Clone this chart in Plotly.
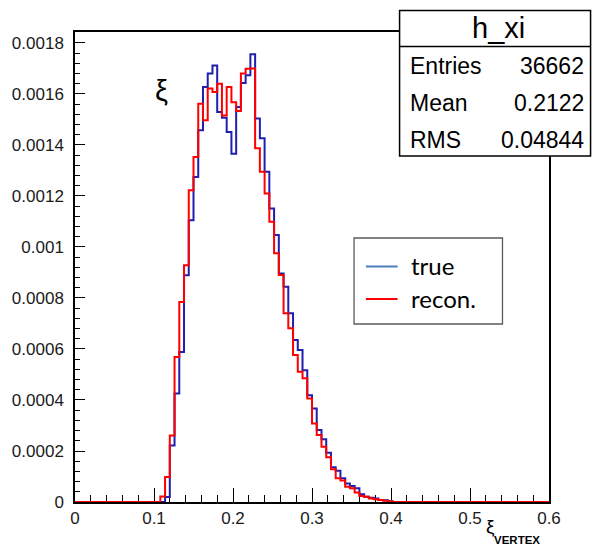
import plotly.graph_objects as go

# ---------------- data ----------------
BIN_WIDTH = 0.006
N_BINS = 100
X_MIN = 0.0
FIRST_BIN = 18          # first listed bin starts at 0.108
SCALE = 1e-4            # values below are in units of 1e-4

true_vals = [0.00, 0.20, 2.22, 4.25, 5.88, 8.89, 11.05, 12.74, 14.58, 16.27,
             16.80, 17.12, 15.29, 15.07, 14.51, 13.66, 15.49, 16.43, 16.73, 17.56,
             15.04, 14.26, 12.95, 11.51, 10.47, 8.96, 8.44, 7.40, 6.35, 5.96,
             5.17, 4.19, 3.67, 2.82, 2.46, 1.93, 1.36, 1.23, 0.93, 0.73,
             0.63, 0.54, 0.30, 0.21, 0.17, 0.14, 0.08, 0.07, 0.03]

recon_vals = [0.22, 0.98, 2.61, 5.69, 7.84, 9.28, 12.22, 13.53, 15.62, 14.97,
              16.21, 16.08, 16.40, 15.16, 16.27, 15.68, 15.33, 16.80, 16.99, 17.00,
              13.87, 12.95, 12.10, 10.99, 9.75, 8.90, 7.40, 6.81, 5.76, 5.11,
              4.85, 4.06, 3.08, 2.63, 2.17, 1.75, 1.28, 0.93, 0.84, 0.60,
              0.54, 0.37, 0.24, 0.21, 0.14, 0.11, 0.08, 0.05, 0.02]

x_ticks = [0, 0.1, 0.2, 0.3, 0.4, 0.5, 0.6]
x_ticktext = ["0", "0.1", "0.2", "0.3", "0.4", "0.5", "0.6"]
y_ticks = [0, 0.0002, 0.0004, 0.0006, 0.0008, 0.001, 0.0012, 0.0014, 0.0016, 0.0018]
y_ticktext = ["0", "0.0002", "0.0004", "0.0006", "0.0008", "0.001",
              "0.0012", "0.0014", "0.0016", "0.0018"]
Y_MAX = 0.001843

stats_title = "h_xi"
stats_labels = ["Entries", "Mean", "RMS"]
stats_values = ["36662", "0.2122", "0.04844"]
legend_labels = ["true", "recon."]


def full_bins(vals):
    out = [0.0] * N_BINS
    for i, v in enumerate(vals):
        out[FIRST_BIN + i] = v * SCALE
    return out


edges = [X_MIN + i * BIN_WIDTH for i in range(N_BINS + 1)]
h_true = full_bins(true_vals)
h_reco = full_bins(recon_vals)

# ---------------- layout geometry (pixels) ----------------
W, H = 593, 548
L, R, T, B = 70, 549, 32, 502


def px(x):
    return (x - L) / (R - L)


def py(y):
    return (B - y) / (B - T)


HIST_BLUE = "#1f1fb0"
HIST_RED = "#ff0000"

fig = go.Figure()
fig.add_trace(go.Scatter(x=edges, y=h_true + [h_true[-1]], mode="lines",
                         line=dict(shape="hv", color=HIST_BLUE, width=2),
                         showlegend=False, hoverinfo="skip"))
fig.add_trace(go.Scatter(x=edges, y=h_reco + [h_reco[-1]], mode="lines",
                         line=dict(shape="hv", color=HIST_RED, width=2),
                         showlegend=False, hoverinfo="skip"))

tickfont = dict(family="Liberation Sans, Arial, sans-serif", size=17, color="#1a1a1a")

fig.update_xaxes(range=[0, 0.6], tickmode="array", tickvals=x_ticks, ticktext=x_ticktext,
                 ticks="inside", ticklen=14, tickwidth=1.3, tickcolor="black",
                 showline=True, linecolor="black", linewidth=1.5, mirror=True,
                 showgrid=False, zeroline=False, tickfont=tickfont,
                 layer="below traces", ticklabelstandoff=0,
                 minor=dict(ticks="inside", ticklen=7, tickwidth=1.3, tickcolor="black",
                            tickmode="linear", tick0=0, dtick=0.02, showgrid=False))
fig.update_yaxes(range=[0, Y_MAX], tickmode="array", tickvals=y_ticks, ticktext=y_ticktext,
                 ticks="inside", ticklen=10, tickwidth=1.3, tickcolor="black",
                 showline=True, linecolor="black", linewidth=1.5, mirror=True,
                 showgrid=False, zeroline=False, tickfont=tickfont,
                 layer="below traces", ticklabelstandoff=6,
                 minor=dict(ticks="inside", ticklen=5, tickwidth=1.3, tickcolor="black",
                            tickmode="linear", tick0=0, dtick=0.00004, showgrid=False))

shapes = []
annotations = []

# stats box
shapes.append(dict(type="rect", xref="paper", yref="paper",
                   x0=px(398), x1=px(591), y0=py(156), y1=py(10.5),
                   line=dict(color="black", width=1.5), fillcolor="white", layer="above"))
shapes.append(dict(type="line", xref="paper", yref="paper",
                   x0=px(398), x1=px(591), y0=py(46.5), y1=py(46.5),
                   line=dict(color="black", width=1.5), layer="above"))
sfont = dict(family="Liberation Sans, Arial, sans-serif", color="black")
annotations.append(dict(text=stats_title, xref="paper", yref="paper",
                        x=px(497.5), y=py(28), xanchor="center", yanchor="middle",
                        showarrow=False, font=dict(size=29, **sfont)))
row_y = [66, 103.5, 140]
for lab, val, yy in zip(stats_labels, stats_values, row_y):
    annotations.append(dict(text=lab, xref="paper", yref="paper",
                            x=px(407), y=py(yy), xanchor="left", yanchor="middle",
                            showarrow=False, font=dict(size=23, **sfont)))
    annotations.append(dict(text=val, xref="paper", yref="paper",
                            x=px(586), y=py(yy), xanchor="right", yanchor="middle",
                            showarrow=False, font=dict(size=23, **sfont)))

# legend box
shapes.append(dict(type="rect", xref="paper", yref="paper",
                   x0=px(352), x1=px(502), y0=py(324), y1=py(238),
                   line=dict(color="#5a5a5a", width=1.3), fillcolor="white", layer="above"))
leg_colors = ["#4a7ebb", "#ff0000"]
leg_y = [266.5, 299]
lfont = dict(family="Lato, Open Sans, sans-serif", size=24, color="black")
for lab, col, yy in zip(legend_labels, leg_colors, leg_y):
    shapes.append(dict(type="line", xref="paper", yref="paper",
                       x0=px(364), x1=px(396), y0=py(yy), y1=py(yy),
                       line=dict(color=col, width=2.2), layer="above"))
    annotations.append(dict(text=lab, xref="paper", yref="paper",
                            x=px(408), y=py(yy - 1), xanchor="left", yanchor="middle",
                            showarrow=False, font=lfont))

# xi label in the pad
annotations.append(dict(text="ξ", xref="paper", yref="paper",
                        x=px(157), y=py(91), xanchor="center", yanchor="middle",
                        showarrow=False,
                        font=dict(family="Liberation Sans, Arial, sans-serif", size=29, color="black")))
# x-axis title
annotations.append(dict(text="ξ", xref="paper", yref="paper",
                        x=px(490), y=py(526), xanchor="center", yanchor="middle",
                        showarrow=False,
                        font=dict(family="Liberation Sans, Arial, sans-serif", size=19, color="black")))
annotations.append(dict(text="<b>VERTEX</b>", xref="paper", yref="paper",
                        x=px(491), y=py(540), xanchor="left", yanchor="middle",
                        showarrow=False,
                        font=dict(family="Liberation Sans, Arial, sans-serif", size=11.5, color="black")))

fig.update_layout(width=W, height=H,
                  margin=dict(l=L, r=W - R, t=T, b=H - B, pad=0),
                  plot_bgcolor="white", paper_bgcolor="white",
                  shapes=shapes, annotations=annotations, showlegend=False)

fig.write_html("out.html", config={"displayModeBar": False})

# remove the default page margin so the figure sits at the window's top-left corner
with open("out.html", "r", encoding="utf-8") as f:
    html = f.read()
html = html.replace("<head>", "<head><style>html,body{margin:0;padding:0;overflow:hidden;}</style>", 1)
with open("out.html", "w", encoding="utf-8") as f:
    f.write(html)
